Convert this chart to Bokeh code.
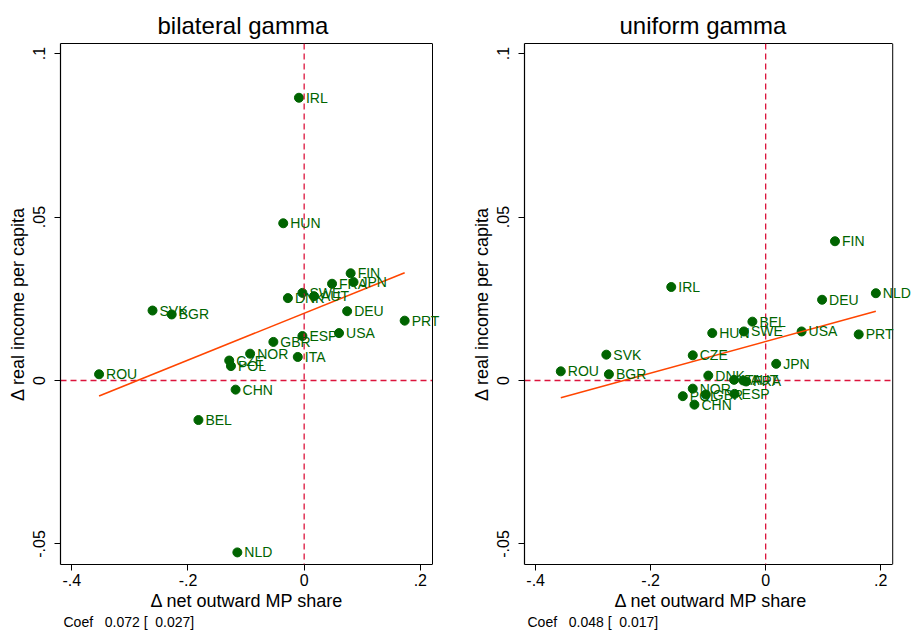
import numpy as np
from bokeh.plotting import figure
from bokeh.layouts import row
from bokeh.models import (Range1d, FixedTicker, Span, LabelSet, ColumnDataSource, Title,
                          LinearAxis)
from bokeh.core.properties import value
from bokeh.embed import file_html
from bokeh.resources import INLINE

# ---------------- data ----------------
titles = ["bilateral gamma", "uniform gamma"]
coef_texts = ["Coef\u00a0\u00a0\u00a00.072 [\u00a0\u00a00.027]",
              "Coef\u00a0\u00a0\u00a00.048 [\u00a0\u00a00.017]"]
x_title = "\u0394 net outward MP share"
y_title = "\u0394 real income per capita"

x_ticks = [-0.4, -0.2, 0.0, 0.2]
x_tick_labels = ["-.4", "-.2", "0", ".2"]
y_ticks = [-0.05, 0.0, 0.05, 0.1]
y_tick_labels = ["-.05", "0", ".05", ".1"]
ref_x = 0.0
ref_y = 0.0

countries_left = ["IRL", "HUN", "FIN", "FRA", "JPN", "SWE", "AUT", "DNK", "SVK", "BGR",
                  "DEU", "PRT", "ESP", "USA", "GBR", "NOR", "ITA", "CZE", "POL", "ROU",
                  "CHN", "BEL", "NLD"]
x_left = [-0.009, -0.036, 0.080, 0.048, 0.085, -0.003, 0.017, -0.028, -0.261, -0.228,
          0.074, 0.173, -0.003, 0.060, -0.053, -0.093, -0.011, -0.129, -0.126, -0.353,
          -0.118, -0.182, -0.115]
y_left = [0.0865, 0.0481, 0.0328, 0.0296, 0.0301, 0.0268, 0.0258, 0.0252, 0.0214, 0.0202,
          0.0212, 0.0183, 0.0136, 0.0145, 0.0118, 0.0082, 0.0072, 0.0061, 0.0044, 0.0019,
          -0.0028, -0.0121, -0.0526]

countries_right = ["FIN", "IRL", "NLD", "DEU", "BEL", "HUN", "SWE", "USA", "PRT", "SVK",
                   "CZE", "JPN", "ROU", "BGR", "DNK", "ITA", "AUT", "FRA", "NOR", "POL",
                   "GBR", "ESP", "CHN"]
x_right = [0.1205, -0.1642, 0.1916, 0.0981, -0.0231, -0.0929, -0.0379, 0.0625, 0.1618, -0.2771,
           -0.1268, 0.0183, -0.3563, -0.2726, -0.0998, -0.055, -0.039, -0.034, -0.1268, -0.1441,
           -0.104, -0.054, -0.1239]
y_right = [0.0426, 0.0286, 0.0267, 0.0247, 0.0180, 0.0145, 0.0150, 0.0150, 0.0141, 0.0079,
           0.0077, 0.0051, 0.0028, 0.0019, 0.0015, 0.0002, 0.0000, -0.0003, -0.0025, -0.0048,
           -0.0043, -0.0041, -0.0074]

GREEN = "#006400"
ORANGE = "#FF4500"
REFRED = "#DC143C"
FONT = "Liberation Sans"

X_RANGE = (-0.4194, 0.2209)   # visible plot box
Y_RANGE = (-0.0563, 0.1031)
BOX_W = 372                   # plot box width in px


def make_panel(title, title_off, coef, names, xs, ys, width, border_left):
    frame_w = width - border_left
    x_end = X_RANGE[0] + (X_RANGE[1] - X_RANGE[0]) * frame_w / BOX_W
    p = figure(width=width, height=634, output_backend="svg", toolbar_location=None,
               x_range=Range1d(X_RANGE[0], x_end), y_range=Range1d(*Y_RANGE),
               min_border_left=border_left, min_border_right=0,
               min_border_top=43, min_border_bottom=70)
    p.background_fill_color = "white"
    p.border_fill_color = "white"
    p.outline_line_color = None
    p.xgrid.visible = False
    p.ygrid.visible = False

    p.title.text = title
    p.title.align = "left"
    p.title.offset = title_off
    p.title.text_font = FONT
    p.title.text_font_size = "24px"
    p.title.text_font_style = "normal"
    p.title.text_color = "black"
    p.title.standoff = 10

    for ax, ticks, labels in ((p.xaxis[0], x_ticks, x_tick_labels),
                              (p.yaxis[0], y_ticks, y_tick_labels)):
        ax.ticker = FixedTicker(ticks=ticks)
        ax.major_label_overrides = {t: l for t, l in zip(ticks, labels)}
        ax.axis_label_text_font = FONT
        ax.axis_label_text_font_size = "18px"
        ax.axis_label_text_font_style = "normal"
        ax.axis_label_text_color = "black"
        ax.major_label_text_font = FONT
        ax.major_label_text_font_size = "16px"
        ax.major_label_text_color = "black"
        ax.axis_line_color = "black"
        ax.axis_line_width = 1.2
        ax.major_tick_line_color = "black"
        ax.major_tick_out = 6
        ax.major_tick_in = 0
        ax.minor_tick_line_color = None
    p.xaxis[0].bounds = X_RANGE
    p.yaxis[0].axis_label = y_title
    p.yaxis[0].major_label_orientation = "vertical"
    p.xaxis[0].major_label_standoff = 3
    p.yaxis[0].major_label_standoff = 9
    p.yaxis[0].axis_label_standoff = 3

    # top border of the plot box
    top = LinearAxis(ticker=FixedTicker(ticks=[]), bounds=X_RANGE, axis_line_color="black",
                     axis_line_width=1.0, major_tick_line_color=None,
                     minor_tick_line_color=None, major_label_text_font_size="0px")
    p.add_layout(top, "above")
    # right border of the plot box
    p.add_layout(Span(location=X_RANGE[1], dimension="height", line_color="black",
                      line_width=1))

    p.add_layout(Span(location=ref_x, dimension="height", line_color=REFRED,
                      line_dash="6 4", line_width=1.3))
    p.line([X_RANGE[0], X_RANGE[1]], [ref_y, ref_y], line_color=REFRED,
           line_dash="6 4", line_width=1.3)

    src = ColumnDataSource(dict(x=xs, y=ys, name=names))
    p.scatter("x", "y", source=src, size=9, marker="circle",
              fill_color=GREEN, line_color=GREEN)

    xa = np.array(xs)
    ya = np.array(ys)
    b, a = np.polyfit(xa, ya, 1)
    fx = np.array([xa.min(), xa.max()])
    p.line(fx, a + b * fx, line_color=ORANGE, line_width=1.6)

    p.add_layout(LabelSet(x="x", y="y", text="name", source=src, x_offset=7,
                          text_baseline="middle", text_color=GREEN,
                          text_font=value(FONT), text_font_size="14px"))

    p.add_layout(Title(text=x_title, align="left", offset=90, standoff=0, text_font=FONT,
                       text_font_size="18px", text_font_style="normal",
                       text_color="black"), "below")
    p.add_layout(Title(text=coef, align="left", offset=3, standoff=2, text_font=FONT,
                       text_font_size="14px", text_font_style="normal",
                       text_color="black"), "below")
    return p


p1 = make_panel(titles[0], 97, coef_texts[0], countries_left, x_left, y_left, 468, 60)
p2 = make_panel(titles[1], 95, coef_texts[1], countries_right, x_right, y_right, 444, 52)

layout = row(p1, p2)
open("out.html", "w").write(file_html(layout, INLINE))
